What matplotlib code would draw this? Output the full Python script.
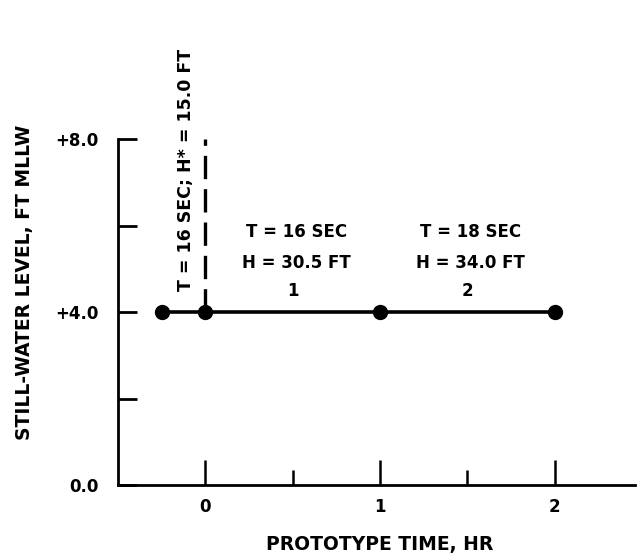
import matplotlib
matplotlib.use("Agg")
import matplotlib.pyplot as plt

# still-water level vs prototype time
time_hr = [-0.25, 0.0, 1.0, 2.0]
swl_ft = [4.0, 4.0, 4.0, 4.0]

# dashed marker line at start of test
dash_x = [0.0, 0.0]
dash_y = [4.0, 8.0]

yticks = [0, 2, 4, 6, 8]
ytick_labels = ["0.0", "", "+4.0", "", "+8.0"]
xticks = [0, 1, 2]
xminor = [0.5, 1.5]

wave_labels = ["T = 16 SEC\nH = 30.5 FT", "T = 18 SEC\nH = 34.0 FT"]
wave_ids = ["1", "2"]
wave_x = [0.5, 1.5]

plt.rcParams["font.family"] = "DejaVu Sans"
plt.rcParams["font.weight"] = "bold"

fig = plt.figure(figsize=(6.37, 5.57), dpi=100)
ax = fig.add_axes([0.185, 0.129, 0.812, 0.621])

ax.plot(time_hr, swl_ft, color="black", lw=2.6, marker="o", ms=10, zorder=3)
ax.plot(dash_x, dash_y, color="black", lw=2.4, ls=(0, (7, 3)), zorder=2)

ax.set_xlim(-0.5, 2.46)
ax.set_ylim(0, 8)

for s in ["top", "right"]:
    ax.spines[s].set_visible(False)
for s in ["left", "bottom"]:
    ax.spines[s].set_linewidth(2.0)

ax.set_yticks(yticks)
ax.set_yticklabels(ytick_labels)
ax.set_xticks(xticks)
ax.set_xticks(xminor, minor=True)
ax.tick_params(axis="y", direction="in", length=14, width=2.0, pad=14, labelsize=12)
ax.tick_params(axis="x", which="major", direction="in", length=18, width=1.8, pad=9, labelsize=12)
ax.tick_params(axis="x", which="minor", direction="in", length=11, width=1.8)

ax.set_xlabel("PROTOTYPE TIME, HR", fontsize=13.5, fontweight="bold")
ax.xaxis.set_label_coords(0.507, -0.145)
ax.set_ylabel("STILL-WATER LEVEL, FT MLLW", fontsize=13.5, fontweight="bold")
ax.yaxis.set_label_coords(-0.163, 0.587)

for x, lab, n in zip(wave_x, wave_labels, wave_ids):
    ax.text(x + 0.02, 5.5, lab, ha="center", va="center", fontsize=12, linespacing=1.9)
    ax.text(x, 4.5, n, ha="center", va="center", fontsize=12)

ax.text(-0.11, 4.5, "T = 16 SEC; H* = 15.0 FT", rotation=90, ha="center", va="bottom",
        fontsize=12.5)

fig.savefig("out.png", dpi=100)
